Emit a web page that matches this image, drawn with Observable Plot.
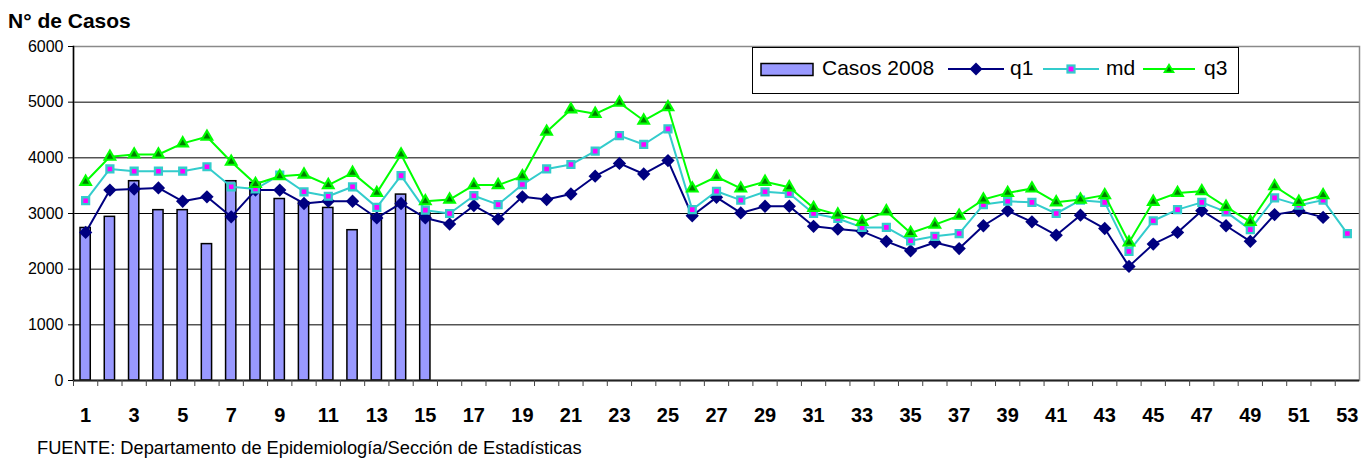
<!DOCTYPE html>
<html>
<head>
<meta charset="utf-8">
<script src="https://cdn.jsdelivr.net/npm/d3@7"></script>
<script src="https://cdn.jsdelivr.net/npm/@observablehq/plot@0.6"></script>
<style>
  html, body { margin: 0; padding: 0; background: #fff; }
  body { width: 1361px; height: 459px; overflow: hidden; position: relative; font-family: "Liberation Sans", Arial, sans-serif; color: #000; }
  #title { position: absolute; left: 8px; top: 10px; font-weight: bold; font-size: 21px; line-height: 21px; white-space: nowrap; }
  #chart { position: absolute; left: 0; top: 30px; }
  #legend { position: absolute; left: 752px; top: 47px; width: 487px; height: 47px; border: 1px solid #000; box-sizing: border-box; background: #fff; font-size: 21px; line-height: 21px; }
  #legend .it { position: absolute; }
  #legend .tx { position: absolute; top: 9px; white-space: nowrap; }
  #caption { position: absolute; left: 37px; top: 439px; font-size: 18.3px; line-height: 18px; white-space: nowrap; letter-spacing: 0; }
</style>
</head>
<body>
<div id="title">N° de Casos</div>
<div id="chart"></div>
<div id="legend">
  <svg class="it" style="left:7px;top:14px" width="56" height="16"><rect x="1" y="1.5" width="52" height="12" fill="#9999FF" stroke="#000" stroke-width="1.5"/></svg>
  <span class="tx" style="left:69px">Casos 2008</span>
  <svg class="it" style="left:195px;top:11px" width="56" height="20"><line x1="0" y1="10" x2="56" y2="10" stroke="#000080" stroke-width="2"/><path d="M28,3.5 L34.5,10 L28,16.5 L21.5,10 Z" fill="#000080"/></svg>
  <span class="tx" style="left:257px">q1</span>
  <svg class="it" style="left:290px;top:11px" width="56" height="20"><line x1="0" y1="10" x2="56" y2="10" stroke="#33CCCC" stroke-width="2"/><rect x="24.5" y="6.5" width="7" height="7" fill="#FF00FF" stroke="#33CCCC" stroke-width="2.2"/></svg>
  <span class="tx" style="left:353px">md</span>
  <svg class="it" style="left:390px;top:11px" width="52" height="20"><line x1="0" y1="10" x2="52" y2="10" stroke="#00FF00" stroke-width="2"/><path d="M26,4 L32,14 L20,14 Z" fill="#00FF00"/><path d="M26,7.5 L28.8,12.5 L23.2,12.5 Z" fill="#008000"/></svg>
  <span class="tx" style="left:451px">q3</span>
</div>
<div id="caption">FUENTE: Departamento de Epidemiología/Sección de Estadísticas</div>
<script>
// ---- data ----
const weeks = d3.range(1, 54);
const weekLabels = weeks.filter(w => w % 2 === 1);
const yTicks = [0, 1000, 2000, 3000, 4000, 5000, 6000];
const gridValues = [1000, 2000, 3000, 4000, 5000];

const casos2008 = [2740, 2940, 3580, 3060, 3060, 2450, 3580, 3550, 3260, 3200,
                   3100, 2700, 2960, 3340, 3000];

const q1 = [2660, 3420, 3440, 3460, 3220, 3300, 2940, 3420, 3420, 3180,
            3220, 3220, 2920, 3180, 2920, 2810, 3140, 2900, 3300, 3250,
            3350, 3670, 3900, 3710, 3950, 2960, 3290, 3010, 3130, 3130,
            2770, 2720, 2680, 2500, 2330, 2480, 2370, 2780, 3050, 2850,
            2610, 2970, 2730, 2050, 2450, 2660, 3050, 2780, 2500, 2980,
            3050, 2930, null];

const md = [3230, 3800, 3760, 3760, 3760, 3840, 3480, 3440, 3690, 3390,
            3310, 3480, 3110, 3680, 3060, 3000, 3320, 3160, 3520, 3800,
            3880, 4120, 4400, 4240, 4520, 3070, 3400, 3240, 3390, 3360,
            3000, 2910, 2750, 2750, 2510, 2590, 2640, 3160, 3220, 3200,
            3000, 3240, 3200, 2320, 2870, 3070, 3200, 3030, 2710, 3280,
            3150, 3240, 2640];

const q3 = [3570, 4020, 4060, 4060, 4260, 4380, 3930, 3530, 3670, 3700,
            3510, 3730, 3370, 4060, 3220, 3250, 3510, 3510, 3670, 4470,
            4870, 4790, 4990, 4670, 4910, 3450, 3660, 3450, 3570, 3470,
            3100, 2980, 2850, 3040, 2650, 2800, 2960, 3250, 3370, 3450,
            3200, 3250, 3330, 2480, 3210, 3370, 3400, 3120, 2850, 3490,
            3210, 3330, null];

// ---- build ----
const W = 1361, ML = 73, MR = 2;
const step = (W - ML - MR) / weeks.length;
const toRows = arr => arr.map((v, i) => ({week: weeks[i], value: v})).filter(d => d.value != null);
const bars = toRows(casos2008);
const s1 = toRows(q1), s2 = toRows(md), s3 = toRows(q3);

const chart = Plot.plot({
  width: W,
  height: 400,
  marginLeft: ML,
  marginRight: MR,
  marginTop: 16,
  marginBottom: 50,
  style: {fontFamily: "'Liberation Sans', Arial, sans-serif", color: "#000", background: "#fff", overflow: "visible"},
  x: {type: "band", domain: weeks, padding: 0, round: false, axis: null},
  y: {domain: [0, 6000], axis: null},
  marks: [
    Plot.ruleY(gridValues, {stroke: "#000", strokeWidth: 1}),
    Plot.frame({stroke: "#8a8a8a", strokeWidth: 1.5}),
    Plot.barY(bars, {x: "week", y: "value", fill: "#9999FF", stroke: "#000", strokeWidth: 1.5, insetLeft: 7, insetRight: 7}),
    Plot.line(s1, {x: "week", y: "value", stroke: "#000080", strokeWidth: 2}),
    Plot.dot(s1, {x: "week", y: "value", symbol: "diamond2", r: 6, fill: "#000080", stroke: "none"}),
    Plot.line(s2, {x: "week", y: "value", stroke: "#33CCCC", strokeWidth: 2}),
    Plot.dot(s2, {x: "week", y: "value", symbol: "square", r: 3.9, fill: "#FF00FF", stroke: "#33CCCC", strokeWidth: 2.3}),
    Plot.line(s3, {x: "week", y: "value", stroke: "#00FF00", strokeWidth: 2}),
    Plot.dot(s3, {x: "week", y: "value", symbol: "triangle", r: 5.3, fill: "#00FF00", stroke: "none"}),
    Plot.dot(s3, {x: "week", y: "value", symbol: "triangle", r: 2.5, fill: "#008000", stroke: "none"}),
    Plot.ruleY([0], {stroke: "#222", strokeWidth: 2}),
    Plot.frame({anchor: "left", stroke: "#000", strokeWidth: 1.5}),
    Plot.axisY(yTicks, {tickSize: 5, tickPadding: 5, fontSize: 16, label: null, stroke: "#000", tickFormat: d => String(d)}),
    Plot.axisX(weeks, {tickSize: 6, fill: "none", dx: -step / 2, label: null, stroke: "#444"}),
    Plot.axisX(weekLabels, {tickSize: 0, tickPadding: 27, fontSize: 20, fontWeight: "bold", label: null})
  ]
});
document.getElementById("chart").appendChild(chart);
</script>
</body>
</html>
